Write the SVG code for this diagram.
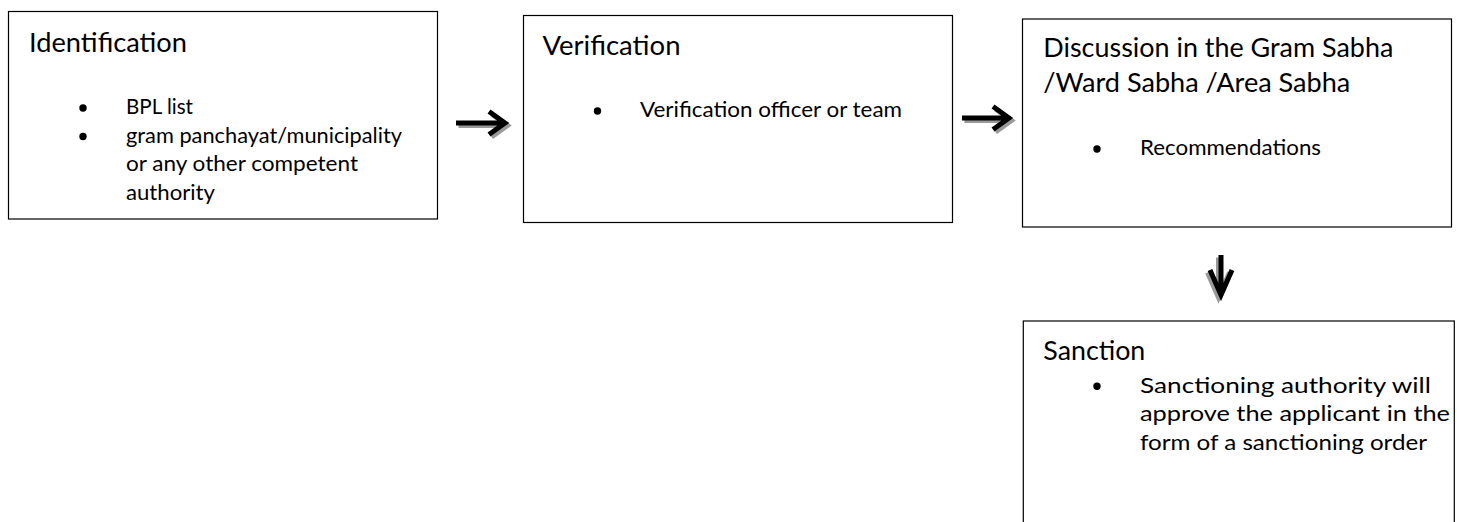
<svg xmlns="http://www.w3.org/2000/svg" width="1457" height="522" viewBox="0 0 1457 522">
<style>
.box{fill:#fff;stroke:#000;stroke-width:1.2}
.t{font-family:Lato,"Liberation Sans",sans-serif;font-size:26.5px;fill:#000}
.b{font-family:Lato,"Liberation Sans",sans-serif;font-size:21px;fill:#000}
.dot{fill:#000}
.ar{fill:none;stroke:#000;stroke-width:5;stroke-linejoin:miter;stroke-linecap:butt}
.sh{fill:none;stroke:#9a9a9a;stroke-width:5;stroke-linejoin:miter;stroke-linecap:butt}
</style>
<rect width="1457" height="522" fill="#fff"/>
<g id="identification">
<rect class="box" x="8.5" y="11.5" width="429" height="207.5"/>
<text class="t" x="29" y="51.5" textLength="158" lengthAdjust="spacingAndGlyphs">Identification</text>
<circle class="dot" cx="83" cy="108" r="3.7"/>
<text class="b" x="126" y="114.3" textLength="67" lengthAdjust="spacingAndGlyphs">BPL list</text>
<circle class="dot" cx="83" cy="136.5" r="3.7"/>
<text class="b" x="126" y="142.6" textLength="276" lengthAdjust="spacingAndGlyphs">gram panchayat/municipality</text>
<text class="b" x="126" y="171" textLength="232" lengthAdjust="spacingAndGlyphs">or any other competent</text>
<text class="b" x="126" y="199.5" textLength="89" lengthAdjust="spacingAndGlyphs">authority</text>
</g>
<g id="verification">
<rect class="box" x="523.5" y="15.5" width="429" height="207"/>
<text class="t" x="542.5" y="54.5" textLength="138" lengthAdjust="spacingAndGlyphs">Verification</text>
<circle class="dot" cx="597.5" cy="111" r="3.7"/>
<text class="b" x="640" y="117.3" textLength="262" lengthAdjust="spacingAndGlyphs">Verification officer or team</text>
</g>
<g id="discussion">
<rect class="box" x="1022.5" y="19" width="429" height="208"/>
<text class="t" x="1043.3" y="57" textLength="350" lengthAdjust="spacingAndGlyphs">Discussion in the Gram Sabha</text>
<text class="t" x="1043.3" y="92" textLength="307" lengthAdjust="spacingAndGlyphs">/Ward Sabha /Area Sabha</text>
<circle class="dot" cx="1097" cy="149" r="3.7"/>
<text class="b" x="1140" y="155.3" textLength="181" lengthAdjust="spacingAndGlyphs">Recommendations</text>
</g>
<g id="sanction">
<rect class="box" x="1023.3" y="321" width="431" height="215"/>
<text class="t" x="1043.3" y="360" textLength="102" lengthAdjust="spacingAndGlyphs">Sanction</text>
<circle class="dot" cx="1097" cy="386.2" r="3.7"/>
<text class="b" x="1140" y="393" textLength="291" lengthAdjust="spacingAndGlyphs">Sanctioning authority will</text>
<text class="b" x="1140" y="421.3" textLength="310" lengthAdjust="spacingAndGlyphs">approve the applicant in the</text>
<text class="b" x="1140" y="449.6" textLength="287" lengthAdjust="spacingAndGlyphs">form of a sanctioning order</text>
</g>
<g id="connectors">
<g transform="translate(2.5,2.5)">
<path class="sh" d="M456,123 H504 M489,111.5 L505,123 L489,134.5"/>
<path class="sh" d="M962,118 H1008 M993,106.5 L1009,118 L993,129.5"/>
</g>
<path class="sh" transform="translate(-2.5,2.5)" d="M1221,255 V294 M1210,270 L1221,295 L1232,270"/>
<path class="ar" d="M456,123 H504 M489,111.5 L505,123 L489,134.5"/>
<path class="ar" d="M962,118 H1008 M993,106.5 L1009,118 L993,129.5"/>
<path class="ar" d="M1221,255 V294 M1210,270 L1221,295 L1232,270"/>
</g>
</svg>
